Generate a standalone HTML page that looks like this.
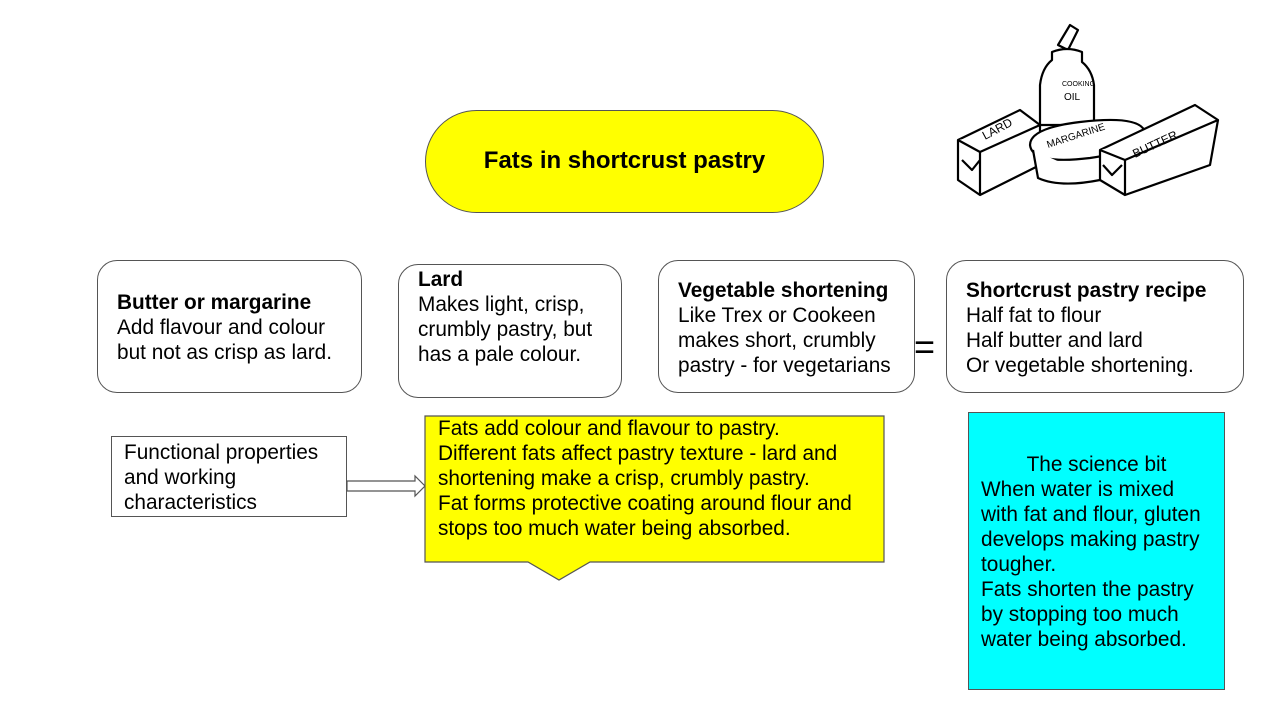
<!DOCTYPE html>
<html><head><meta charset="utf-8"><style>
body{margin:0;width:1269px;height:710px;background:#fff;position:relative;overflow:hidden;font-family:"Liberation Sans",Arial,sans-serif;color:#000}
.a{position:absolute;box-sizing:border-box}
.t{position:absolute;font-size:20.8px;line-height:25px;white-space:nowrap}
.rb{border:1.3px solid #555;border-radius:20px;background:#fff}
</style></head><body>
<div class="a" style="left:425px;top:110px;width:399px;height:103px;background:#ffff00;border:1.3px solid #555;border-radius:52px"></div>
<div class="t" style="left:425px;width:399px;top:148px;text-align:center;font-weight:bold;font-size:24px">Fats in shortcrust pastry</div>

<div class="a rb" style="left:97px;top:260px;width:265px;height:133px"></div>
<div class="t" style="left:117px;top:290px"><b>Butter or margarine</b><br>Add flavour and colour<br>but not as crisp as lard.</div>

<div class="a rb" style="left:398px;top:264px;width:224px;height:134px"></div>
<div class="t" style="left:418px;top:267px"><b>Lard</b><br>Makes light, crisp,<br>crumbly pastry, but<br>has a pale colour.</div>

<div class="a rb" style="left:658px;top:260px;width:257px;height:133px"></div>
<div class="t" style="left:678px;top:278px"><b>Vegetable shortening</b><br>Like Trex or Cookeen<br>makes short, crumbly<br>pastry - for vegetarians</div>

<div class="t" style="left:914px;top:328px;font-size:36px;line-height:38px">=</div>

<div class="a rb" style="left:946px;top:260px;width:298px;height:133px"></div>
<div class="t" style="left:966px;top:278px"><b>Shortcrust pastry recipe</b><br>Half fat to flour<br>Half butter and lard<br>Or vegetable shortening.</div>

<div class="a" style="left:111px;top:436px;width:236px;height:81px;border:1.3px solid #555"></div>
<div class="t" style="left:124px;top:440px">Functional properties<br>and working<br>characteristics</div>

<svg class="a" style="left:0;top:0" width="1269" height="710">
<polygon points="347,481 415,481 415,476 425,486 415,496 415,491 347,491" fill="#fff" stroke="#555" stroke-width="1.2"/>
<polygon points="425,416 884,416 884,562 590,562 559,580 528,562 425,562" fill="#ffff00" stroke="#555" stroke-width="1.2"/>
<g fill="#fff" stroke="#000" stroke-width="2.2" stroke-linejoin="round">
<path d="M1058,45 L1070,25 L1078,30 L1068,50 Z"/>
<path d="M1052,52 Q1067,46 1082,52 L1082,62 Q1092,70 1094,85 L1094,125 L1040,125 L1040,85 Q1042,68 1052,60 Z"/>
<path d="M958,140 L1020,110 L1040,125 L1040,165 L980,195 L958,180 Z"/>
<path d="M958,140 L980,152 L1040,125 M980,152 L980,195 M962,160 L972,170 L980,160"/>
<path d="M1030,145 Q1030,128 1080,122 Q1140,115 1145,132 Q1145,150 1090,158 Q1032,165 1030,145 Z"/>
<path d="M1033,150 L1038,178 Q1060,188 1100,180"/>
<path d="M1100,150 L1195,105 L1218,120 L1210,165 L1125,195 L1100,180 Z"/>
<path d="M1100,150 L1125,160 L1218,120 M1125,160 L1125,195 M1103,165 L1112,175 L1122,165"/>
</g>
<g font-family="Liberation Sans,sans-serif" font-size="12" fill="#000">
<text x="985" y="140" transform="rotate(-28 985 140)">LARD</text>
<text x="1048" y="148" font-size="10" transform="rotate(-18 1048 148)">MARGARINE</text>
<text x="1135" y="158" transform="rotate(-25 1135 158)">BUTTER</text>
<text x="1062" y="86" font-size="7">COOKING</text>
<text x="1064" y="100" font-size="10">OIL</text>
</g>
</svg>
<div class="t" style="left:438px;top:416px">Fats add colour and flavour to pastry.<br>Different fats affect pastry texture - lard and<br>shortening make a crisp, crumbly pastry.<br>Fat forms protective coating around flour and<br>stops too much water being absorbed.</div>

<div class="a" style="left:968px;top:412px;width:257px;height:278px;background:#00ffff;border:1.3px solid #555"></div>
<div class="t" style="left:968px;width:257px;top:452px;text-align:center">The science bit</div>
<div class="t" style="left:981px;top:477px">When water is mixed<br>with fat and flour, gluten<br>develops making pastry<br>tougher.<br>Fats shorten the pastry<br>by stopping too much<br>water being absorbed.</div>
</body></html>
